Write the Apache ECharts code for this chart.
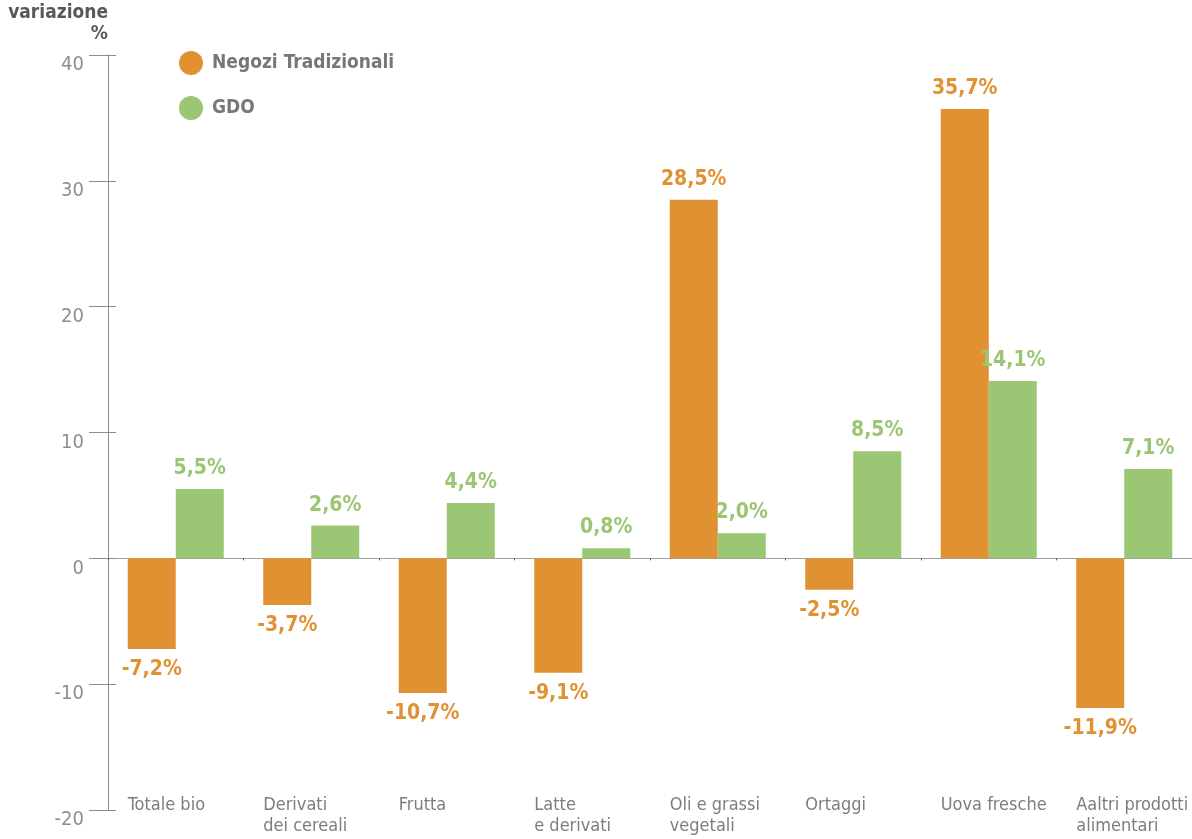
<!DOCTYPE html>
<html><head><meta charset="utf-8">
<script src="https://cdn.jsdelivr.net/npm/echarts@6/dist/echarts.min.js"></script>
<style>html,body{margin:0;padding:0;background:#fff}#c{width:1192px;height:839px}</style>
</head><body><div id="c"></div>
<script>
var categories = ["Totale bio", "Derivati\ndei cereali", "Frutta", "Latte\ne derivati", "Oli e grassi\nvegetali", "Ortaggi", "Uova fresche", "Aaltri prodotti\nalimentari"];
var negozi = [-7.2, -3.7, -10.7, -9.1, 28.5, -2.5, 35.7, -11.9];
var gdo = [5.5, 2.6, 4.4, 0.8, 2.0, 8.5, 14.1, 7.1];
var seriesNames = ["Negozi Tradizionali", "GDO"];
var yTicks = {min: -20, max: 40, interval: 10};

var FONT = '"Liberation Sans Narrow","DejaVu Sans Condensed","Roboto Condensed",sans-serif';
var ORANGE = '#E09132', GREEN = '#9BC673';

function fmt(v){ return v.toFixed(1).replace('.', ',') + '%'; }
function mk(arr){
  return arr.map(function(v){
    return {value: v, label: {position: v < 0 ? 'bottom' : 'top'}};
  });
}
function lbl(color){
  return {show: true, color: color, fontFamily: FONT, fontWeight: 'bold', fontSize: 21,
    distance: 10, formatter: function(p){ return fmt(p.value); }};
}

var chart = echarts.init(document.getElementById('c'));
chart.setOption({
  animation: false,
  grid: {left: 108, right: 0, top: 55, bottom: 29, containLabel: false, outerBoundsMode: 'none'},
  legend: {
    orient: 'vertical', left: 174, top: 46, itemGap: 21,
    icon: 'circle', itemWidth: 24, itemHeight: 24,
    textStyle: {fontFamily: FONT, fontWeight: 'bold', fontSize: 19, color: '#77777b', padding: [0,0,0,4]},
    data: seriesNames
  },
  xAxis: [
    {type: 'category', data: categories, position: 'bottom',
     axisLine: {onZero: true, lineStyle: {color: '#a0a0a0', width: 1}},
     axisTick: {show: true, length: 2, lineStyle: {color: '#555'}},
     axisLabel: {show: false}, splitLine: {show: false}},
    {type: 'category', data: categories, position: 'bottom',
     axisLine: {show: false, onZero: false}, axisTick: {show: false},
     axisLabel: {show: true, margin: -15, align: 'center', verticalAlign: 'top',
       formatter: function(v){ return v.split('\n').map(function(s){ return '{a|' + s + '}'; }).join('\n'); },
       rich: {a: {width: 96, align: 'left', fontFamily: FONT, fontSize: 18, color: '#7d7d80', lineHeight: 21}}
     }}
  ],
  yAxis: [
    {type: 'value', min: yTicks.min, max: yTicks.max, interval: yTicks.interval,
     name: 'variazione\n%', nameLocation: 'end', nameGap: 10,
     nameTextStyle: {fontFamily: FONT, fontWeight: 'bold', fontSize: 19, color: '#58585b', align: 'right', verticalAlign: 'bottom', lineHeight: 21},
     axisLine: {show: true, lineStyle: {color: '#8c8c8c'}},
     axisTick: {show: true, length: 19, lineStyle: {color: '#8c8c8c'}},
     axisLabel: {margin: 24, fontFamily: FONT, fontSize: 20, color: '#8e8e90', verticalAlign: 'top'},
     splitLine: {show: false}},
    {type: 'value', min: yTicks.min, max: yTicks.max, interval: yTicks.interval, position: 'left',
     axisLine: {show: false}, axisTick: {show: true, inside: true, length: 8, lineStyle: {color: '#8c8c8c'}},
     axisLabel: {show: false}, splitLine: {show: false}}
  ],
  series: [
    {name: seriesNames[0], type: 'bar', data: mk(negozi), barWidth: 48, barGap: '0%',
     itemStyle: {color: ORANGE}, label: lbl(ORANGE)},
    {name: seriesNames[1], type: 'bar', data: mk(gdo), barWidth: 48, barGap: '0%',
     itemStyle: {color: GREEN}, label: lbl(GREEN)}
  ]
});
</script></body></html>
